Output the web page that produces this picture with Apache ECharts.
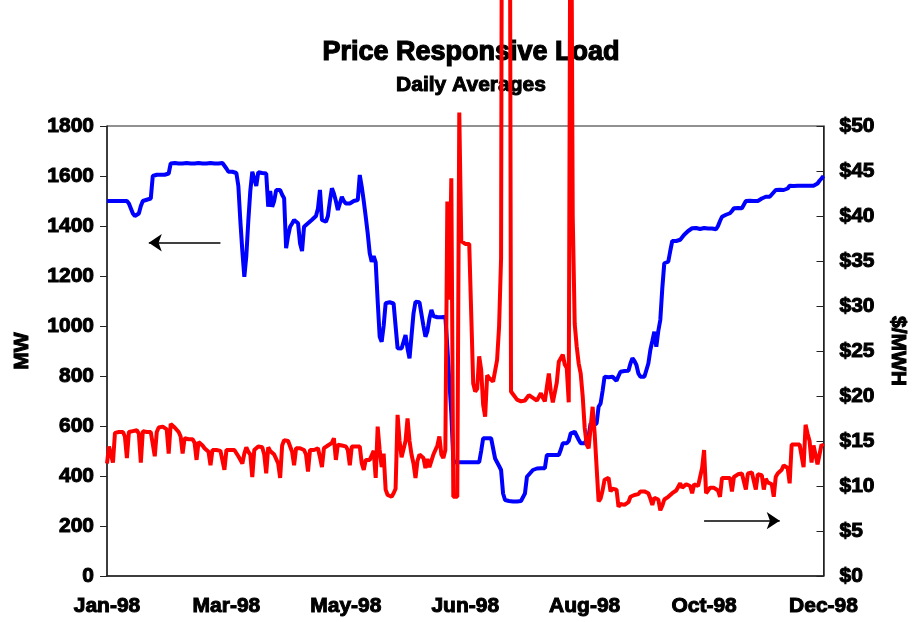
<!DOCTYPE html>
<html>
<head>
<meta charset="utf-8">
<title>Price Responsive Load</title>
<script src="https://cdn.jsdelivr.net/npm/echarts@6/dist/echarts.min.js"></script>
<style>
  html, body { margin: 0; padding: 0; background: #fff; }
  #chart { width: 917px; height: 622px; }
</style>
</head>
<body>
<div id="chart"></div>
<script>
  // daily averages, 1 Jan 1998 .. 27 Dec 1998 (361 days)
  const startYear = 1998;
  const tickLabels = ['Jan-98', 'Mar-98', 'May-98', 'Jun-98', 'Aug-98', 'Oct-98', 'Dec-98'];

  // price responsive load, MW (left axis)
  const mwLoad = [
    1500,1500,1500,1500,1500,1500,1500,1500,1500,1500,
    1500,1490,1470,1450,1440,1437,1450,1480,1500,1505,
    1505,1505,1510,1600,1605,1605,1605,1605,1605,1605,
    1605,1610,1650,1650,1652,1650,1650,1652,1650,1650,
    1652,1650,1650,1652,1650,1650,1652,1650,1650,1652,
    1650,1650,1652,1650,1650,1652,1650,1650,1652,1650,
    1630,1617,1615,1617,1615,1612,1560,1420,1300,1197,
    1280,1420,1540,1617,1612,1560,1615,1612,1612,1610,
    1610,1477,1540,1477,1500,1544,1544,1544,1525,1511,
    1311,1360,1397,1410,1424,1418,1411,1330,1300,1397,
    1400,1411,1418,1425,1431,1440,1470,1544,1424,1420,
    1417,1440,1500,1551,1530,1500,1464,1490,1517,1500,
    1490,1484,1490,1497,1500,1502,1504,1604,1557,1500,
    1437,1370,1291,1257,1280,1255,1100,957,937,1000,
    1091,1095,1095,1093,1090,1000,911,910,910,912,
    964,910,871,960,1050,1097,1097,1095,1095,1000,
    957,980,1030,1064,1040,1035,1035,1030,1035,1035,
    1037,917,780,651,464,455,455,455,455,455,
    455,455,455,455,455,455,455,455,500,551,
    551,551,551,551,551,470,455,440,424,330,
    304,300,300,300,298,295,298,300,300,300,
    330,397,405,415,424,428,430,431,431,431,
    431,484,484,484,484,484,484,484,505,531,
    531,531,540,571,575,577,575,545,531,531,
    531,525,560,611,600,605,611,677,690,740,
    797,790,795,797,797,790,781,800,817,820,
    820,820,821,850,871,860,844,810,797,797,
    797,797,850,904,940,977,917,980,1024,1150,
    1251,1255,1257,1300,1340,1344,1340,1337,1345,1355,
    1365,1371,1380,1388,1391,1390,1392,1390,1388,1390,
    1392,1390,1390,1388,1390,1387,1387,1400,1420,1437,
    1440,1445,1450,1451,1460,1471,1471,1472,1470,1471,
    1471,1500,1500,1501,1500,1500,1499,1500,1500,1510,
    1517,1517,1518,1517,1517,1535,1544,1544,1545,1544,
    1544,1544,1550,1561,1561,1560,1562,1561,1560,1561,
    1562,1561,1560,1561,1562,1561,1560,1570,1581,1590,
    1600
  ];

  // daily average price, $/MWH (right axis)
  const price = [
    12.5,14.4,13.5,12.6,15.9,15.9,16.0,16.0,16.0,15.5,
    13.1,16.0,16.0,16.1,16.1,16.2,15.8,12.6,16.1,16.1,
    16.0,16.0,16.0,15.8,13.3,16.0,16.5,16.6,16.6,16.5,
    16.3,13.6,16.9,16.8,16.5,16.3,16.0,15.5,13.6,15.3,
    15.3,15.2,15.2,15.2,14.8,12.9,14.9,14.8,14.5,14.2,
    14.1,13.8,12.3,14.0,14.0,14.0,13.9,13.9,13.7,11.8,
    14.0,14.0,14.0,14.0,14.0,13.8,13.3,12.9,12.5,13.6,
    14.3,13.8,13.5,11.0,14.0,14.2,14.4,14.6,14.3,13.5,
    11.4,14.3,13.9,13.7,13.5,13.0,12.5,10.9,14.5,15.1,
    15.2,15.0,14.8,13.8,12.3,14.2,14.2,14.2,14.2,14.0,
    13.5,11.6,14.0,14.0,14.0,14.0,14.2,13.2,12.1,14.2,
    14.4,14.5,14.6,14.8,15.3,12.9,14.6,14.5,14.5,14.4,
    14.4,14.0,12.3,14.4,14.4,14.4,14.4,14.4,12.5,11.8,
    12.9,12.9,12.9,13.0,13.9,10.9,16.6,14.0,12.1,13.6,
    9.6,9.0,8.8,8.8,9.2,9.7,17.9,15.0,13.2,13.2,
    15.0,17.5,15.0,13.5,12.5,10.9,12.8,13.5,13.6,13.1,
    12.0,13.0,12.1,12.8,13.5,13.6,14.5,15.5,13.5,13.1,
    14.0,41.6,30.7,44.2,8.8,8.8,8.8,51.5,37.2,37.0,
    36.9,36.9,36.9,37.0,21.4,20.5,20.8,24.4,22.9,19.0,
    17.7,22.3,22.0,21.8,21.6,21.6,24.0,27.7,35.3,140,
    160,150,120,20.5,20.2,19.9,19.6,19.5,19.4,19.2,
    19.5,19.8,20.1,19.9,19.8,19.6,19.5,19.4,20.3,19.8,
    19.4,21.0,22.5,20.5,19.3,19.3,21.5,23.8,24.2,24.6,
    23.5,23.1,19.3,90,40.0,28.0,25.5,23.6,22.5,20.0,
    16.5,14.6,14.2,16.5,18.8,15.9,12.1,8.3,8.6,9.5,
    10.7,10.8,10.9,9.4,9.7,9.7,9.6,7.7,8.0,8.0,
    7.9,7.7,8.2,8.8,9.0,9.0,8.8,9.1,9.4,9.4,
    9.4,9.3,9.2,8.6,7.9,8.7,8.6,8.5,7.3,7.8,
    8.5,8.7,8.8,9.0,9.2,9.4,9.5,9.6,10.3,9.8,
    10.0,10.2,10.3,10.0,9.2,10.2,10.1,10.0,10.0,12.0,
    14.0,9.2,9.5,9.8,9.8,9.8,9.8,9.5,8.8,10.9,
    10.9,10.9,10.9,10.9,9.4,11.0,11.2,11.3,11.3,11.4,
    11.4,9.6,11.4,11.5,11.5,11.6,9.6,11.3,11.3,11.2,
    9.6,10.8,10.4,10.4,10.2,8.8,11.0,11.4,11.6,11.8,
    12.3,12.2,12.0,10.3,14.6,14.6,14.6,14.6,14.6,14.5,
    12.1,16.8,15.8,15.0,12.6,14.5,14.6,12.4,13.5,14.6,
    14.4
  ];

  const days = mwLoad.map((v, i) => {
    const d = new Date(startYear, 0, 1 + i);
    return d.getFullYear() + '-' + (d.getMonth() + 1) + '-' + d.getDate();
  });

  const fontFamily = '"Liberation Sans", Arial, sans-serif';
  const labelStyle = {
    color: '#000',
    fontFamily: fontFamily,
    fontWeight: 'bold',
    fontSize: 21,
    textBorderColor: '#000',
    textBorderWidth: 1
  };
  const axisColor = '#222';

  const chart = echarts.init(document.getElementById('chart'));
  chart.setOption({
    animation: false,
    backgroundColor: '#fff',
    graphic: [
      {
        type: 'text', x: 471, y: 39,
        style: {
          text: 'Price Responsive Load', fill: '#000',
          font: 'bold 27px ' + fontFamily,
          textAlign: 'center', align: 'center',
          textVerticalAlign: 'top', verticalAlign: 'top',
          stroke: '#000', lineWidth: 1.2
        }
      },
      {
        type: 'text', x: 471, y: 75,
        style: {
          text: 'Daily Averages', fill: '#000',
          font: 'bold 21px ' + fontFamily,
          textAlign: 'center', align: 'center',
          textVerticalAlign: 'top', verticalAlign: 'top',
          stroke: '#000', lineWidth: 1
        }
      }
    ],
    grid: {
      left: 107,
      right: 92,
      top: 126,
      bottom: 46,
      show: true,
      borderColor: axisColor,
      borderWidth: 1
    },
    xAxis: {
      type: 'category',
      data: days,
      boundaryGap: false,
      axisLine: { lineStyle: { color: axisColor, width: 1.5 } },
      axisTick: { show: false },
      splitLine: { show: false },
      axisLabel: Object.assign({}, labelStyle, {
        interval: 59,
        margin: 20,
        formatter: (v, i) => tickLabels[Math.round(i / 60)] || ''
      })
    },
    yAxis: [
      {
        type: 'value',
        min: 0,
        max: 1800,
        interval: 200,
        name: 'MW',
        nameLocation: 'middle',
        nameRotate: 90,
        nameGap: 74,
        nameTextStyle: labelStyle,
        axisLine: { show: true, lineStyle: { color: axisColor, width: 1.5 } },
        axisTick: { show: true, length: 7, lineStyle: { color: axisColor } },
        splitLine: { show: false },
        axisLabel: Object.assign({}, labelStyle, {
          margin: 13,
          formatter: v => String(v)
        })
      },
      {
        type: 'value',
        position: 'right',
        min: 0,
        max: 50,
        interval: 5,
        name: '$/MWH',
        nameLocation: 'middle',
        nameRotate: -90,
        nameGap: 64,
        nameTextStyle: labelStyle,
        axisLine: { show: true, lineStyle: { color: axisColor, width: 1.5 } },
        axisTick: { show: true, inside: true, length: 7, lineStyle: { color: axisColor } },
        splitLine: { show: false },
        axisLabel: Object.assign({}, labelStyle, {
          margin: 16,
          formatter: v => '$' + v
        })
      }
    ],
    series: [
      {
        name: 'MW',
        type: 'line',
        yAxisIndex: 0,
        data: mwLoad,
        showSymbol: false,
        lineStyle: { color: '#0000ff', width: 4 },
        itemStyle: { color: '#0000ff' },
        markLine: {
          silent: true,
          symbol: ['none', 'arrow'],
          symbolSize: 13,
          label: { show: false },
          lineStyle: { color: '#000', width: 1.5, type: 'solid' },
          data: [[{ coord: [days[57], 1333] }, { coord: [days[21], 1333] }]]
        }
      },
      {
        name: '$/MWH',
        type: 'line',
        yAxisIndex: 1,
        data: price,
        clip: false,
        showSymbol: false,
        lineStyle: { color: '#ff0000', width: 4 },
        itemStyle: { color: '#ff0000' },
        markLine: {
          silent: true,
          symbol: ['none', 'arrow'],
          symbolSize: 13,
          label: { show: false },
          lineStyle: { color: '#000', width: 1.5, type: 'solid' },
          data: [[{ coord: [days[300], 6.15] }, { coord: [days[338], 6.15] }]]
        }
      }
    ]
  });
</script>
</body>
</html>
